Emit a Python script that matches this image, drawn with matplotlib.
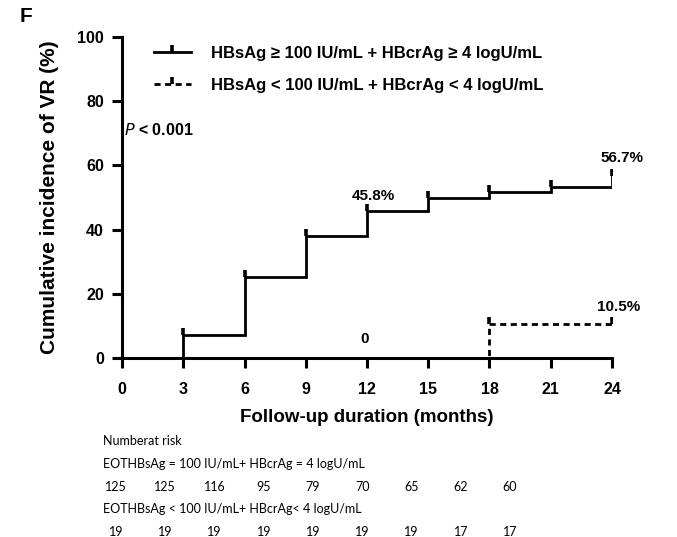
import matplotlib
matplotlib.use("Agg")
import matplotlib.pyplot as plt
import numpy as np
from matplotlib.path import Path
from matplotlib.lines import Line2D

plt.rcParams['font.family'] = ['Liberation Sans', 'DejaVu Sans']

# Kaplan-Meier style cumulative incidence (%) at each follow-up visit
months = [0, 3, 6, 9, 12, 15, 18, 21, 24]
high_group = [0, 7.2, 25.1, 38.1, 45.8, 50.0, 51.6, 53.4, 56.7]
low_group = [0, 0, 0, 0, 0, 0, 10.5, 10.5, 10.5]

label_high = "HBsAg \u2265 100 IU/mL + HBcrAg \u2265 4 logU/mL"
label_low = "HBsAg < 100 IU/mL + HBcrAg < 4 logU/mL"

risk_title = "Numberat risk"
risk_label_high = "EOTHBsAg = 100 IU/mL+ HBcrAg = 4 logU/mL"
risk_label_low = "EOTHBsAg < 100 IU/mL+ HBcrAg< 4 logU/mL"
risk_high = [125, 125, 116, 95, 79, 70, 65, 62, 60]
risk_low = [19, 19, 19, 19, 19, 19, 19, 17, 17]

# upward censor tick marker
tick_up = Path([(0, 0), (0, 1)])

fig = plt.figure(figsize=(6.77, 5.37), dpi=100)
W, H = 677, 537
ax = fig.add_axes([122 / W, 1 - 358 / H, (612 - 122) / W, (358 - 37) / H])

lw = 2.0
dash = (0, (2.2, 1.6))
ax.step(months, high_group, where='post', color='black', lw=lw, solid_joinstyle='miter')
ax.plot(months[1:], high_group[1:], linestyle='none', marker=tick_up,
        markersize=10, markeredgewidth=2.6, color='black')

ax.step(months, low_group, where='post', color='black', lw=lw, linestyle=dash)
ax.plot([18, 24], [low_group[6], low_group[8]], linestyle='none', marker=tick_up,
        markersize=10, markeredgewidth=2.6, color='black')

ax.set_xlim(0, 24)
ax.set_ylim(0, 100)
ax.set_xticks(months)
ax.set_yticks([0, 20, 40, 60, 80, 100])
for s in ['top', 'right']:
    ax.spines[s].set_visible(False)
for s in ['left', 'bottom']:
    ax.spines[s].set_linewidth(2.2)
ax.tick_params(direction='out', length=7, width=2.2, labelsize=11.5)
ax.tick_params(axis='x', pad=10)
ax.tick_params(axis='y', pad=6)
for t in ax.get_xticklabels() + ax.get_yticklabels():
    t.set_fontweight('bold')
ax.set_xlabel("Follow-up duration (months)", fontsize=13.5, fontweight='bold', labelpad=9)
ax.set_ylabel("Cumulative incidence of VR (%)", fontsize=15, fontweight='bold', labelpad=13)

# value annotations
ax.text(12.3, 48.2, f"{high_group[4]}%", ha='center', va='bottom', fontsize=11, fontweight='bold')
ax.text(24.5, 60.0, f"{high_group[-1]}%", ha='center', va='bottom', fontsize=11, fontweight='bold')
ax.text(24.3, 13.8, f"{low_group[-1]}%", ha='center', va='bottom', fontsize=11, fontweight='bold')
ax.text(11.9, 3.8, f"{low_group[4]:g}", ha='center', va='bottom', fontsize=11, fontweight='bold')

handles = [
    Line2D([], [], color='black', lw=lw, marker=tick_up, markersize=10, markeredgewidth=2.6),
    Line2D([], [], color='black', lw=lw, linestyle=dash, marker=tick_up,
           markersize=10, markeredgewidth=2.6),
]
leg = ax.legend(handles, [label_high, label_low], loc='upper left',
                bbox_to_anchor=(0.035, 1.02), frameon=False, handlelength=2.2,
                handletextpad=1.2, labelspacing=1.05,
                prop={'weight': 'bold', 'size': 12})
ax.text(0.005, 0.71, "$\\bf{\\it{P}}$ < 0.001", transform=ax.transAxes,
        fontsize=11.5, fontweight='bold', va='center')

fig.text(20 / W, 1 - 16 / H, "F", fontsize=15, fontweight='bold', va='center')

# number-at-risk table
tfont = dict(family='Lato', fontsize=9)
fig.text(103 / W, 1 - 441 / H, risk_title, va='center', **tfont)
fig.text(103 / W, 1 - 464 / H, risk_label_high, va='center', **tfont)
fig.text(103 / W, 1 - 509 / H, risk_label_low, va='center', **tfont)
cols = np.linspace(116, 510, len(risk_high))
for x, a, b in zip(cols, risk_high, risk_low):
    fig.text(x / W, 1 - 487 / H, str(a), ha='center', va='center', **tfont)
    fig.text(x / W, 1 - 532 / H, str(b), ha='center', va='center', **tfont)

fig.savefig("out.png", dpi=100)
